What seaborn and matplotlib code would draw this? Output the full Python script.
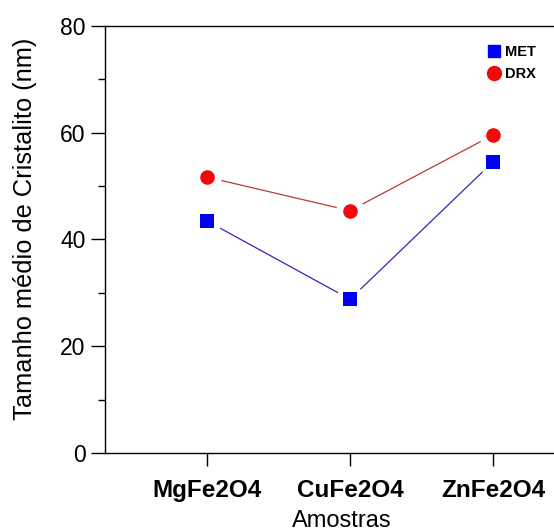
import matplotlib
matplotlib.use("Agg")
import matplotlib.pyplot as plt
from matplotlib.lines import Line2D
from matplotlib.ticker import MultipleLocator
import seaborn as sns
import pandas as pd

amostras = ["MgFe2O4", "CuFe2O4", "ZnFe2O4"]
met = [43.5, 28.8, 54.6]
drx = [51.7, 45.4, 59.6]
series_names = ["MET", "DRX"]

sns.set_theme(style="white")
plt.rcParams["font.family"] = ["Liberation Sans", "DejaVu Sans"]
plt.rcParams["text.color"] = "black"
plt.rcParams["axes.labelcolor"] = "black"
plt.rcParams["xtick.color"] = "black"
plt.rcParams["ytick.color"] = "black"

pos = list(range(len(amostras)))
df = pd.DataFrame({
    "x": pos * 2,
    "y": met + drx,
    "serie": [series_names[0]] * 3 + [series_names[1]] * 3,
})

fig = plt.figure(figsize=(5.54, 5.32), dpi=100)
ax = fig.add_axes([105 / 554, 79 / 532, 490 / 554, 427 / 532])

line_pal = {"MET": "#2a2ab8", "DRX": "#b83a3a"}
sns.lineplot(data=df, x="x", y="y", hue="serie", palette=line_pal, ax=ax,
             linewidth=0.9, legend=False, zorder=2)

# white halos to make the gap between line and marker
sns.scatterplot(data=df, x="x", y="y", color="white", s=420, ax=ax,
                linewidth=0, legend=False, zorder=3)

sub_met = df[df.serie == "MET"]
sub_drx = df[df.serie == "DRX"]
sns.scatterplot(data=sub_met, x="x", y="y", color="#0000f5", marker="s", s=90,
                linewidth=0, ax=ax, legend=False, zorder=4)
sns.scatterplot(data=sub_drx, x="x", y="y", color="#f00a0a", marker="o", s=110,
                linewidth=0, ax=ax, legend=False, zorder=4)

ax.set_xlim(-0.71, 2.71)
ax.set_ylim(0, 80)
ax.set_xticks(pos)
ax.set_xticklabels(amostras, fontsize=17.5, fontweight="bold")
ax.yaxis.set_major_locator(MultipleLocator(20))
ax.yaxis.set_minor_locator(MultipleLocator(10))
ax.tick_params(axis="y", which="major", direction="out", length=10, width=1,
               color="black", labelsize=16.5, pad=4, left=True)
ax.tick_params(axis="y", which="minor", direction="out", length=5, width=1,
               color="black", left=True)
ax.tick_params(axis="x", which="major", direction="out", length=9, width=1,
               color="black", pad=10, bottom=True)

for s in ["left", "bottom", "top"]:
    ax.spines[s].set_color("black")
    ax.spines[s].set_linewidth(1.0)
ax.spines["right"].set_visible(False)

ax.set_xlabel("Amostras", fontsize=17)
ax.xaxis.set_label_coords((342 - 105) / 490, -(510 - 453) / 427)
ax.set_ylabel("Tamanho médio de Cristalito (nm)", fontsize=18.3)
ax.yaxis.set_label_coords(-(105 - 37) / 490, (453 - 229) / 427)

handles = [
    Line2D([], [], linestyle="none", marker="s", color="#0000f5", markersize=9),
    Line2D([], [], linestyle="none", marker="o", color="#f00a0a", markersize=10),
]
ax.legend(handles, series_names, loc="upper left", bbox_to_anchor=(480 / 554, 1 - 38 / 532),
          bbox_transform=fig.transFigure, frameon=False, handlelength=0.9,
          handletextpad=0.3, labelspacing=0.55, borderpad=0,
          prop={"size": 10.5, "weight": "bold"})

fig.savefig("out.png", dpi=100)
